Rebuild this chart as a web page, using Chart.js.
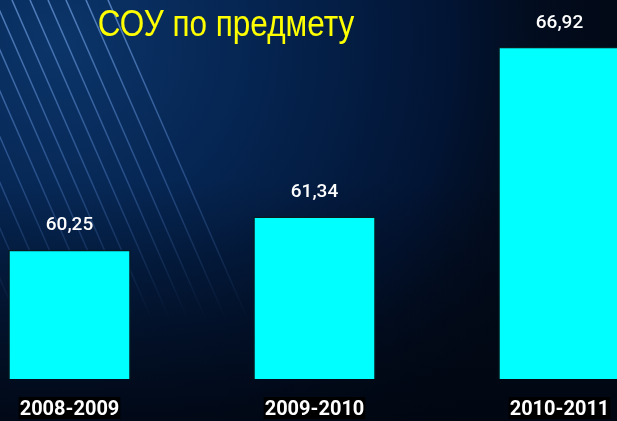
<!DOCTYPE html>
<html>
<head>
<meta charset="utf-8">
<script src="https://cdn.jsdelivr.net/npm/chart.js@4"></script>
<style>
  html, body { margin: 0; padding: 0; width: 617px; height: 421px; overflow: hidden; background: #020c1e; }
  .chart-wrap { position: absolute; left: -53px; top: 0; width: 735px; height: 421px; }
</style>
</head>
<body>
<div class="chart-wrap"><canvas id="chart"></canvas></div>
<script>
const years = ['2008-2009', '2009-2010', '2010-2011'];
const scores = [60.25, 61.34, 66.92];
const scoreLabels = ['60,25', '61,34', '66,92'];
const chartTitle = 'СОУ по предмету';

const shiftX = 53; // canvas sits 53px left of the window

// slide-like background: blue glow top left, streaks, dark bottom right
const slideBackground = {
    id: 'slideBackground',
    beforeDraw(chart) {
        const c = chart.ctx;
        const w = chart.width, h = chart.height;
        c.save();
        c.fillStyle = '#020a18';
        c.fillRect(0, 0, w, h);
        let g = c.createRadialGradient(shiftX + 60, 40, 10, shiftX + 60, 40, 560);
        g.addColorStop(0, '#0b3468');
        g.addColorStop(0.35, '#052450');
        g.addColorStop(0.7, '#021433');
        g.addColorStop(1, 'rgba(2,10,24,0)');
        c.fillStyle = g;
        c.fillRect(0, 0, w, h);
        let g2 = c.createLinearGradient(0, 180, 0, h);
        g2.addColorStop(0, 'rgba(1,8,20,0)');
        g2.addColorStop(1, 'rgba(1,6,16,0.8)');
        c.fillStyle = g2;
        c.fillRect(0, 0, w, h);

        // streaks
        c.lineWidth = 1.5;
        const starts = [-170, -145, -122, -100, -80, -60, -40, -22, -5, 12, 30, 48, 66, 86, 108];
        starts.forEach((sx) => {
            const x0 = shiftX + sx;
            const lg = c.createLinearGradient(x0, 0, x0 + 140, 320);
            lg.addColorStop(0, 'rgba(130,180,250,0.6)');
            lg.addColorStop(0.55, 'rgba(100,150,230,0.35)');
            lg.addColorStop(1, 'rgba(90,140,220,0)');
            c.strokeStyle = lg;
            c.beginPath();
            c.moveTo(x0, 0);
            c.lineTo(x0 + 140, 320);
            c.stroke();
        });
        c.restore();
    }
};

const titleAndValues = {
    id: 'titleAndValues',
    afterDatasetsDraw(chart) {
        const c = chart.ctx;
        c.save();
        c.fillStyle = '#ffff00';
        c.font = '36px "Liberation Sans", Arial, sans-serif';
        c.textAlign = 'center';
        c.textBaseline = 'alphabetic';
        c.translate(shiftX + 226, 36);
        c.scale(0.875, 1);
        c.fillText(chartTitle, 0, 0);
        c.restore();

        c.save();
        c.fillStyle = '#ffffff';
        c.font = '500 19px Roboto, sans-serif';
        c.textAlign = 'center';
        c.textBaseline = 'middle';
        chart.getDatasetMeta(0).data.forEach((bar, i) => {
            c.fillText(scoreLabels[i], bar.x, bar.y - 24);
        });
        c.restore();
    }
};

new Chart(document.getElementById('chart'), {
    type: 'bar',
    data: {
        labels: years,
        datasets: [{
            data: scores,
            backgroundColor: '#00ffff',
            borderColor: '#0a1a1e',
            borderWidth: 1.5,
            barPercentage: 0.5,
            categoryPercentage: 1
        }]
    },
    options: {
        responsive: true,
        maintainAspectRatio: false,
        animation: false,
        layout: { padding: { top: 14, bottom: 2, left: 0, right: 0 } },
        plugins: { legend: { display: false }, tooltip: { enabled: false } },
        scales: {
            y: { display: false, min: 56, max: 68 },
            x: {
                grid: { display: false, drawTicks: false },
                border: { display: false },
                afterFit(scale) { scale.height = 40; },
                ticks: {
                    color: '#ffffff',
                    font: { family: 'Roboto', size: 20, weight: 'bold' },
                    padding: 19,
                    maxRotation: 0,
                    showLabelBackdrop: true,
                    backdropColor: '#000000',
                    backdropPadding: { left: 1, right: 1, top: 1, bottom: 1 }
                }
            }
        }
    },
    plugins: [slideBackground, titleAndValues]
});
</script>
</body>
</html>
